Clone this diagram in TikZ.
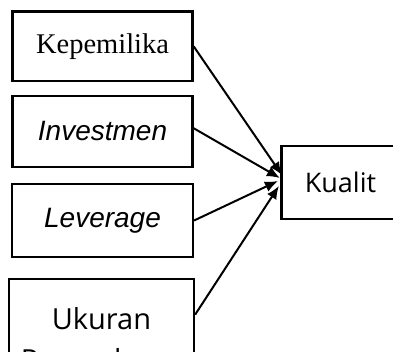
\documentclass[tikz,border=0pt]{standalone}
\usepackage{fontspec}
\setmainfont{Liberation Serif}
\newfontfamily\uifont{Open Sans}
\newfontfamily\uiitfont{Liberation Sans}
\usetikzlibrary{calc,arrows.meta}
\tikzset{
  varbox/.style={rectangle, draw=black, fill=white, line width=2.2pt, align=center, inner sep=0pt},
  causearrow/.style={-{Latex[length=13pt,width=11pt]}, line width=2pt, draw=black},
}
\begin{document}
\begin{tikzpicture}[x=1pt,y=-1pt]
  \useasboundingbox (0,0) rectangle (393,352);
  % Independent variables
  \node[varbox, minimum width=180pt, minimum height=69.5pt, font=\fontsize{28.5}{34}\selectfont] (own) at (102.5,46.25) {Kepemilika};
  \node[varbox, minimum width=180pt, minimum height=71pt, font=\uiitfont\itshape\fontsize{28}{33}\selectfont] (inv) at (102.5,131.2) {Investmen};
  \node[varbox, minimum width=181pt, minimum height=73pt, font=\uiitfont\itshape\fontsize{28}{33}\selectfont] (lev) at (102.5,220.5) {Leverage};
  \node[varbox, anchor=north, minimum width=185pt, minimum height=121pt, font=\uifont\fontsize{29}{41}\selectfont] (size) at (101.5,277.7) {Ukuran\\Perusahaan};

  % Dependent variable
  \node[varbox, minimum width=118pt, minimum height=73pt, font=\uifont\fontsize{27}{32}\selectfont] (qual) at (340.5,182.5) {Kualit};

  % Arrows
  \draw[causearrow] (own.east) -- ($(qual.west)+(1.5,-7.5)$);
  \draw[causearrow] ($(inv.east)+(0,-3)$) -- ($(qual.west)+(-0.5,-4.5)$);
  \draw[causearrow] (lev.east) -- ($(qual.west)+(-2.5,-1.5)$);
  \draw[causearrow] ($(size.north east)+(0,37)$) -- ($(qual.west)+(-1.5,3.5)$);
\end{tikzpicture}
\end{document}
